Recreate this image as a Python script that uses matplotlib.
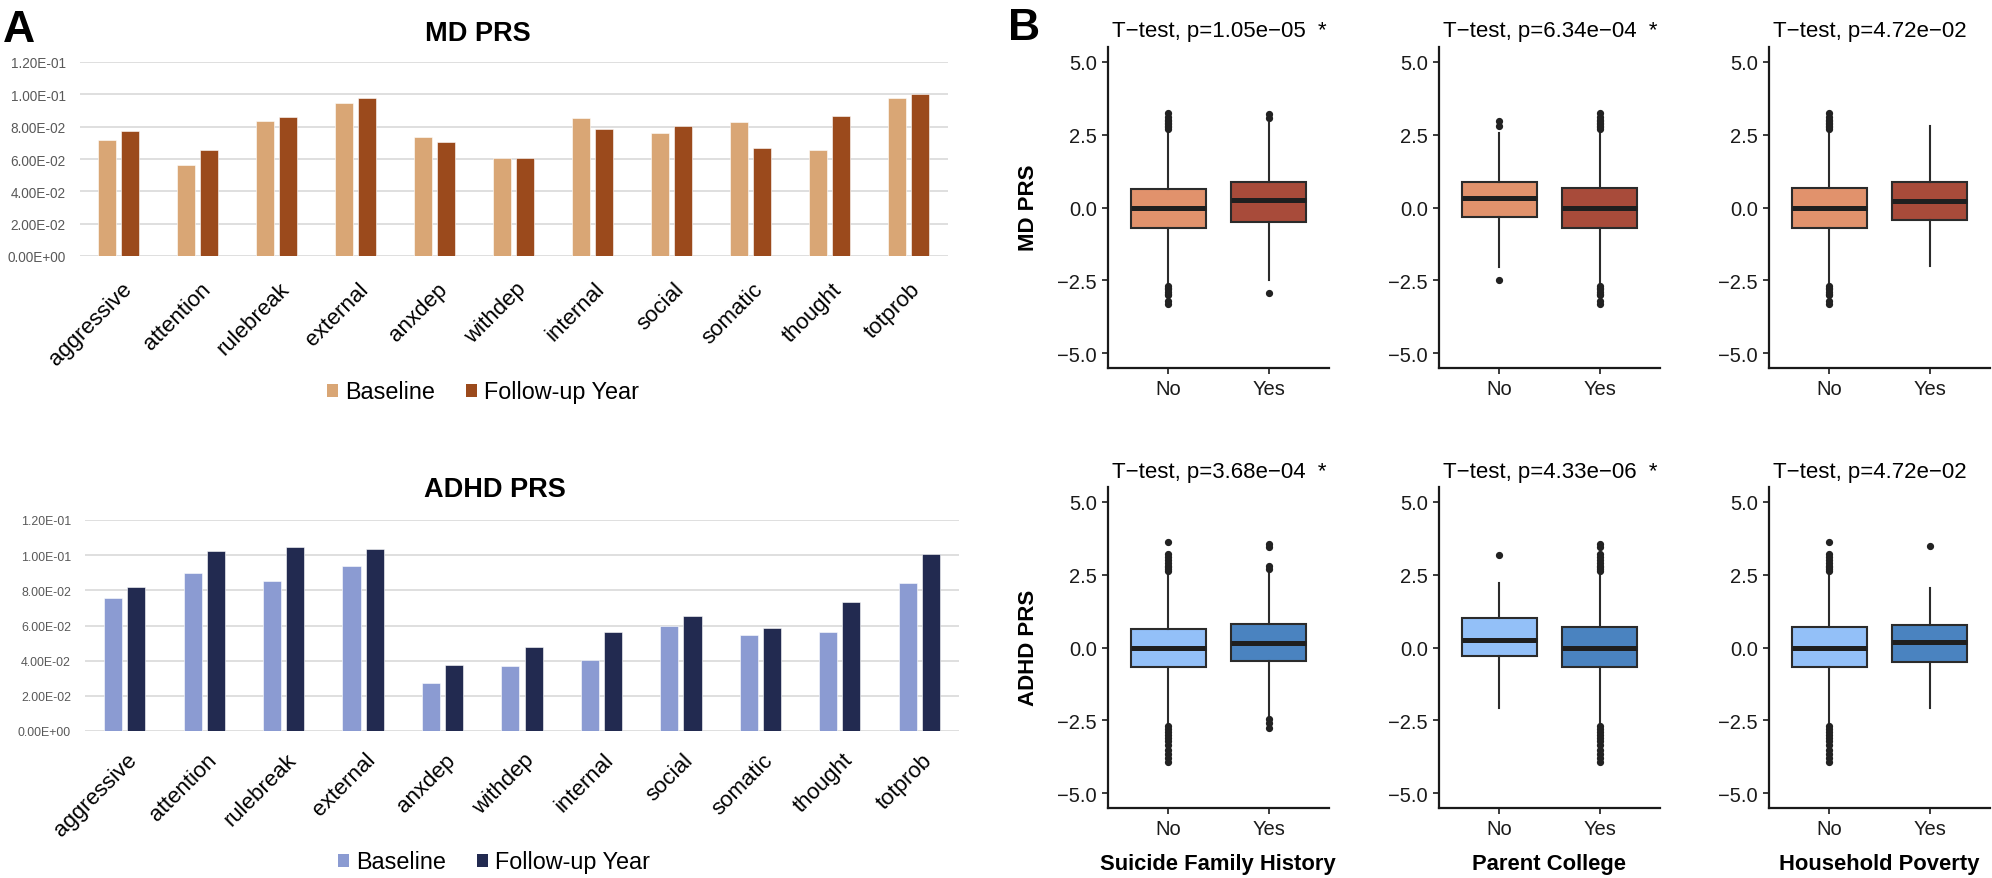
import numpy as np
import matplotlib
matplotlib.use("Agg")
import matplotlib.pyplot as plt
from matplotlib.patches import Patch
from matplotlib.transforms import ScaledTranslation

plt.rcParams['font.family'] = ['Liberation Sans', 'DejaVu Sans']

# ---------------- data: panel A ----------------
categories = ["aggressive", "attention", "rulebreak", "external", "anxdep", "withdep",
              "internal", "social", "somatic", "thought", "totprob"]
md_baseline = [0.0720, 0.0565, 0.0832, 0.0948, 0.0735, 0.0604, 0.0852, 0.0759, 0.0828, 0.0658, 0.0977]
md_followup = [0.0776, 0.0656, 0.0861, 0.0975, 0.0703, 0.0604, 0.0786, 0.0803, 0.0670, 0.0865, 0.1000]
adhd_baseline = [0.0756, 0.0896, 0.0851, 0.0940, 0.0272, 0.0372, 0.0401, 0.0599, 0.0548, 0.0561, 0.0841]
adhd_followup = [0.0817, 0.1025, 0.1049, 0.1034, 0.0378, 0.0476, 0.0565, 0.0654, 0.0588, 0.0735, 0.1009]
bar_yticks = [0.0, 0.02, 0.04, 0.06, 0.08, 0.10, 0.12]
bar_ytick_labels = ["0.00E+00", "2.00E-02", "4.00E-02", "6.00E-02", "8.00E-02", "1.00E-01", "1.20E-01"]
legend_labels = ["Baseline", "Follow-up Year"]

# ---------------- data: panel B ----------------
groups = ["No", "Yes"]
variables = ["Suicide Family History", "Parent College", "Household Poverty"]
prs_names = ["MD PRS", "ADHD PRS"]
titles = [["T\u2212test, p=1.05e\u221205  *", "T\u2212test, p=6.34e\u221204  *", "T\u2212test, p=4.72e\u221202"],
          ["T\u2212test, p=3.68e\u221204  *", "T\u2212test, p=4.33e\u221206  *", "T\u2212test, p=4.72e\u221202"]]

# (q1, median, q3, whisker low, whisker high)
md_stats = [
    [(-0.70, -0.02, 0.65, -2.65, 2.65), (-0.49, 0.24, 0.89, -2.50, 2.90)],
    [(-0.33, 0.33, 0.89, -2.05, 2.56), (-0.70, 0.00, 0.66, -2.65, 2.65)],
    [(-0.70, 0.00, 0.66, -2.65, 2.65), (-0.43, 0.23, 0.89, -2.02, 2.80)],
]
md_fliers = [
    [[2.7, 2.75, 2.8, 2.85, 2.9, 2.95, 3.0, 3.1, 3.25, -2.7, -2.75, -2.8, -2.9, -2.95, -3.0, -3.2, -3.3],
     [3.05, 3.22, -2.92]],
    [[2.8, 2.97, -2.5],
     [2.7, 2.75, 2.8, 2.85, 2.9, 2.95, 3.0, 3.1, 3.25, -2.7, -2.75, -2.8, -2.9, -2.95, -3.0, -3.2, -3.3]],
    [[2.7, 2.75, 2.8, 2.85, 2.9, 2.95, 3.0, 3.1, 3.25, -2.7, -2.75, -2.8, -2.9, -2.95, -3.0, -3.2, -3.3],
     []],
]
adhd_stats = [
    [(-0.68, 0.00, 0.65, -2.63, 2.57), (-0.46, 0.17, 0.82, -2.35, 2.57)],
    [(-0.30, 0.25, 1.00, -2.06, 2.20), (-0.68, 0.00, 0.69, -2.63, 2.57)],
    [(-0.68, 0.00, 0.69, -2.63, 2.57), (-0.51, 0.19, 0.77, -2.06, 2.04)],
]
adhd_fliers = [
    [[2.62, 2.7, 2.75, 2.8, 2.9, 3.0, 3.1, 3.2, 3.6,
      -2.7, -2.8, -2.9, -3.0, -3.1, -3.2, -3.35, -3.5, -3.65, -3.8, -3.92],
     [2.7, 2.8, 3.45, 3.55, -2.45, -2.6, -2.75]],
    [[3.17],
     [2.62, 2.7, 2.75, 2.8, 2.9, 3.0, 3.1, 3.2, 3.45, 3.55,
      -2.7, -2.8, -2.9, -3.0, -3.1, -3.2, -3.35, -3.5, -3.65, -3.8, -3.92]],
    [[2.62, 2.7, 2.75, 2.8, 2.9, 3.0, 3.1, 3.2, 3.6,
      -2.7, -2.8, -2.9, -3.0, -3.1, -3.2, -3.35, -3.5, -3.65, -3.8, -3.92],
     [3.47]],
]
box_yticks = [-5.0, -2.5, 0.0, 2.5, 5.0]

# ---------------- figure ----------------
W, H = 1992, 879
fig = plt.figure(figsize=(W / 100, H / 100), dpi=100)


def px_axes(x0, y0, x1, y1):
    return fig.add_axes([x0 / W, 1 - y1 / H, (x1 - x0) / W, (y1 - y0) / H])


def bar_panel(rect, base, follow, colors, title, title_xy, legend_xy, tick_fs, label_pad):
    ax = px_axes(*rect)
    x = np.arange(len(categories))
    ax.bar(x - 0.146, base, width=0.228, color=colors[0], zorder=3,
           edgecolor='white', linewidth=0.4)
    ax.bar(x + 0.146, follow, width=0.228, color=colors[1], zorder=3,
           edgecolor='white', linewidth=0.4)
    ax.set_xlim(-0.5, len(categories) - 0.5)
    ax.set_ylim(0, 0.12)
    ax.set_yticks(bar_yticks, labels=bar_ytick_labels, fontsize=tick_fs, color='#595959')
    ax.grid(axis='y', color='#D9D9D9', linewidth=1.2, zorder=0)
    for s in ax.spines.values():
        s.set_visible(False)
    ax.tick_params(axis='y', length=0, pad=10)
    ax.set_xticks(x)
    ax.set_xticklabels(categories, rotation=45, ha='right', va='top',
                       rotation_mode='anchor', fontsize=16)
    ax.tick_params(axis='x', length=0, pad=label_pad)
    offset = ScaledTranslation(2 / 100, 0, fig.dpi_scale_trans)
    for lab in ax.get_xticklabels():
        lab.set_transform(lab.get_transform() + offset)
    fig.text(title_xy[0] / W, 1 - title_xy[1] / H, title, ha='center', va='center',
             fontsize=19.5, fontweight='bold')
    handles = [Patch(facecolor=colors[0]), Patch(facecolor=colors[1])]
    fig.legend(handles, legend_labels, loc='center',
               bbox_to_anchor=(legend_xy[0] / W, 1 - legend_xy[1] / H),
               ncol=2, frameon=False, fontsize=16.8, handlelength=0.5, handleheight=0.5,
               handletextpad=0.3, columnspacing=1.3)
    return ax


bar_panel((79.5, 63, 947.5, 257), md_baseline, md_followup, ('#D9A675', '#9B4A1C'),
          "MD PRS", (478, 34), (483, 393), 9.8, 16)
bar_panel((85, 521, 959, 732), adhd_baseline, adhd_followup, ('#8B9BD2', '#222A50'),
          "ADHD PRS", (495, 490), (494, 863), 8.9, 13)

fig.text(3 / W, 1 - 42 / H, "A", fontsize=32, fontweight='bold', ha='left', va='baseline')
fig.text(1008 / W, 1 - 40 / H, "B", fontsize=32, fontweight='bold', ha='left', va='baseline')

# ---------------- panel B ----------------
col_x = [1108, 1439, 1769]
row_y = [(48, 369), (488, 809)]
row_stats = [md_stats, adhd_stats]
row_fliers = [md_fliers, adhd_fliers]
row_colors = [('#E1926C', '#A84B3A'), ('#93C0F8', '#4A83C0')]
title_y = [31, 473]
ylabel_y = [208, 648]

for r in range(2):
    for c in range(3):
        x0 = col_x[c]
        y0, y1 = row_y[r]
        ax = px_axes(x0, y0, x0 + 221, y1)
        stats = []
        for g in range(2):
            q1, med, q3, lo, hi = row_stats[r][c][g]
            stats.append(dict(q1=q1, med=med, q3=q3, whislo=lo, whishi=hi,
                              fliers=row_fliers[r][c][g], label=groups[g]))
        bp = ax.bxp(stats, positions=[1, 2], widths=0.75, patch_artist=True,
                    showcaps=False,
                    boxprops=dict(edgecolor='#2B2B2B', linewidth=1.5),
                    whiskerprops=dict(color='#2B2B2B', linewidth=1.5),
                    medianprops=dict(color='#1F1F1F', linewidth=3.6),
                    flierprops=dict(marker='o', markerfacecolor='#222222',
                                    markeredgecolor='#222222', markersize=4.2))
        for patch, col in zip(bp['boxes'], row_colors[r]):
            patch.set_facecolor(col)
        ax.set_xlim(0.4, 2.6)
        ax.set_ylim(-5.5, 5.5)
        ax.set_yticks(box_yticks, labels=[f"{v:.1f}".replace('-', '\u2212') for v in box_yticks])
        ax.set_xticks([1, 2], labels=groups)
        ax.tick_params(labelsize=14.5, colors='#1A1A1A', length=4, width=1.2, pad=4)
        for s in ['top', 'right']:
            ax.spines[s].set_visible(False)
        for s in ['left', 'bottom']:
            ax.spines[s].set_linewidth(1.6)
            ax.spines[s].set_color('#1A1A1A')
        fig.text((x0 + 4) / W, 1 - title_y[r] / H, titles[r][c], ha='left', va='center',
                 fontsize=16)
        if r == 1:
            fig.text((x0 + 110) / W, 1 - 865 / H, variables[c], ha='center', va='center',
                     fontsize=15.8, fontweight='bold')
    fig.text(1029 / W, 1 - ylabel_y[r] / H, prs_names[r], rotation=90, ha='center',
             va='center', fontsize=16, fontweight='bold')

fig.savefig("out.png", dpi=100)
